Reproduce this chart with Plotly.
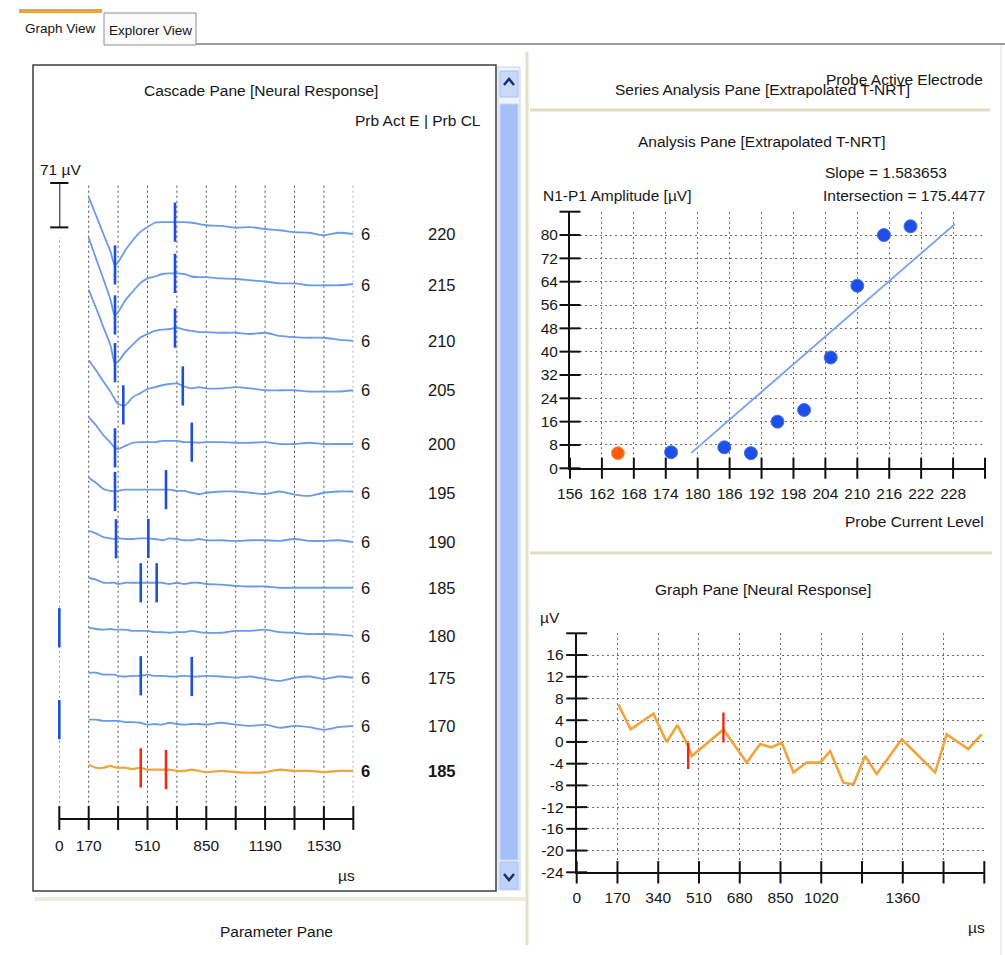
import numpy as np
import plotly.graph_objects as go

# ======================= DATA =======================
# Cascade pane (neural responses, µV relative to each trace's baseline)
cascade_time_us = [170, 212, 255, 297, 320, 340, 382, 425, 467, 510, 552, 595, 637, 680,
                   722, 765, 808, 850, 935, 1020, 1105, 1190, 1275, 1360, 1445, 1530, 1615, 1700]
cascade_levels = [220, 215, 210, 205, 200, 195, 190, 185, 180, 175, 170, 185]
cascade_electrodes = [6, 6, 6, 6, 6, 6, 6, 6, 6, 6, 6, 6]
cascade_offset_uv = [0, -82, -171, -250, -336, -414, -493, -566, -643, -710, -787, -859]

resp_220 = [59, 30, 0, -29, -50, -45, -26, -10, 3, 11, 18, 19, 19, 19, 19, 18, 16, 14, 13, 10, 11, 8, 6, 3, 2, -2, 2, 0]
resp_215 = [76, 43, 10, -24, -48, -43, -24, -10, 3, 11, 14, 18, 19, 19, 18, 14, 13, 13, 11, 10, 8, 6, 3, 3, 0, 0, 0, 2]
resp_210 = [82, 53, 22, -8, -35, -33, -18, -6, 5, 11, 16, 18, 19, 21, 18, 16, 14, 14, 13, 13, 11, 13, 8, 6, 5, 5, 2, 0]
resp_205 = [48, 32, 14, -3, -14, -22, -24, -11, -5, 2, 5, 8, 10, 11, 6, 3, 5, 3, 3, 5, 3, 0, 0, 0, -2, -2, -2, 0]
resp_200 = [43, 30, 14, 2, -6, -8, -3, 2, 3, 3, 3, 5, 5, 5, 3, 3, 2, 3, 3, 2, 2, 3, 0, 0, 2, 0, 0, 0]
resp_195 = [24, 16, 6, 3, 2, 3, 5, 5, 5, 5, 5, 5, 5, 3, 3, 0, -2, 0, 2, 2, 0, -2, 2, -3, -5, 0, 2, 2]
resp_190 = [18, 14, 8, 6, 5, 6, 5, 5, 6, 6, 5, 3, 6, 5, 3, 3, 5, 3, 3, 2, 3, 3, 2, 5, 2, 2, 3, 0]
resp_185 = [16, 13, 8, 8, 8, 6, 8, 8, 8, 8, 8, 8, 6, 8, 6, 8, 8, 6, 5, 3, 2, 2, 0, 0, 0, 0, 0, 0]
resp_180 = [13, 11, 10, 11, 10, 10, 10, 8, 8, 8, 6, 6, 5, 6, 6, 8, 6, 5, 5, 8, 8, 10, 6, 5, 3, 3, 2, 0]
resp_175 = [8, 8, 5, 5, 5, 3, 2, 3, 3, 5, 3, 3, 2, 2, 3, 2, 2, 3, 2, 0, 2, -2, -5, 0, 2, -2, 2, 0]
resp_170 = [10, 10, 8, 8, 8, 8, 6, 6, 5, 2, 3, 2, 5, 3, 2, 3, 3, 2, 5, 2, 0, 2, -3, 0, -2, -6, -2, 0]
resp_185_current = [10, 5, 5, 8, 6, 5, 5, 3, 5, 2, 2, 2, 2, 0, 0, 2, 0, -2, 0, -2, -3, -2, 2, 0, 0, -2, 0, 0]

cascade_n1_us = [322, 322, 322, 370, 322, 322, 328, 471, 0, 471, 0, 471]
cascade_p1_us = [669, 669, 669, 714, 766, 617, 515, 563, None, 766, None, 617]
cascade_tick_us = [0, 170, 340, 510, 680, 850, 1020, 1190, 1360, 1530, 1700]
cascade_tick_text = ["0", "170", "", "510", "", "850", "", "1190", "", "1530", ""]
scale_bar_uv = 71

# Analysis pane (extrapolated T-NRT)
cl_blue = [175, 185, 190, 195, 200, 205, 210, 215, 220]
amp_blue = [5.5, 7.2, 5.2, 16.0, 20.0, 38.0, 62.6, 80.0, 83.0]
cl_orange = [165]
amp_orange = [5.2]
fit_slope = 1.583653
fit_intersection = 175.4477
fit_cl = [178.8, 228.3]
analysis_x_ticks = [156, 162, 168, 174, 180, 186, 192, 198, 204, 210, 216, 222, 228, 234]
analysis_x_text = ["156", "162", "168", "174", "180", "186", "192", "198", "204", "210", "216", "222", "228", ""]
analysis_y_ticks = [0, 8, 16, 24, 32, 40, 48, 56, 64, 72, 80, 88]
analysis_y_text = ["0", "8", "16", "24", "32", "40", "48", "56", "64", "72", "80", ""]

# Graph pane (single neural response)
gp_time_us = [174, 225, 320, 375, 420, 461, 480, 514, 612, 709, 765, 813, 855, 904,
              959, 1015, 1057, 1112, 1154, 1203, 1251, 1356, 1495, 1543, 1633, 1689]
gp_uv = [6.9, 2.3, 5.2, 0.0, 3.1, -0.4, -2.6, -1.3, 2.3, -3.8, -0.4, -1.0, -0.1, -5.6,
         -3.8, -3.8, -1.7, -7.5, -7.8, -2.6, -5.9, 0.5, -5.6, 1.4, -1.3, 1.4]
gp_marker_us = [465, 612]
gp_marker_low = [-5.0, -0.1]
gp_marker_high = [-0.1, 5.4]
gp_x_ticks = [0, 170, 340, 510, 680, 850, 1020, 1190, 1360, 1530, 1700]
gp_x_text = ["0", "170", "340", "510", "680", "850", "1020", "", "1360", "", ""]
gp_y_ticks = [-24, -20, -16, -12, -8, -4, 0, 4, 8, 12, 16, 20]
gp_y_text = ["-24", "-20", "-16", "-12", "-8", "-4", "0", "4", "8", "12", "16", ""]

# ======================= STYLE / LAYOUT HELPERS =======================
W, H = 1005, 955
FONT = "Liberation Sans, Arial, sans-serif"
FS = 15.5
TXT = "#161616"
BLUE_LINE = "#6b9be8"
BLUE_MARK = "#1f4fd8"
ORANGE = "#f2a33a"
RED = "#ee2a14"
GRID = "#6e6e6e"


def X(px):
    return px / W


def Y(py):
    return 1 - py / H


casc_yrange = [-934.4, 94.4]          # µV, 1.6 µV per pixel
casc_grid_top = 81.6
casc_grid_bottom = -918.0

fig = go.Figure()

# ---------- Cascade traces ----------
cascade_responses = [resp_220, resp_215, resp_210, resp_205, resp_200, resp_195,
                     resp_190, resp_185, resp_180, resp_175, resp_170, resp_185_current]
n_rows = len(cascade_levels)
for i in range(n_rows):
    resp = cascade_responses[i]
    off = cascade_offset_uv[i]
    current = i == n_rows - 1
    fig.add_trace(go.Scatter(
        x=cascade_time_us, y=[off + v for v in resp], mode="lines",
        line=dict(color=ORANGE if current else BLUE_LINE, width=2.2 if current else 1.8,
                  shape="spline", smoothing=0.6),
        xaxis="x", yaxis="y", hoverinfo="skip"))
    mt = [t for t in (cascade_n1_us[i], cascade_p1_us[i]) if t is not None]
    my = [off + float(np.interp(t, cascade_time_us, resp)) for t in mt]
    fig.add_trace(go.Scatter(
        x=mt, y=my, mode="markers", cliponaxis=False,
        marker=dict(symbol="line-ns", size=28,
                    line=dict(width=2.6, color=RED if current else BLUE_MARK)),
        xaxis="x", yaxis="y", hoverinfo="skip"))

# scale bar
fig.add_trace(go.Scatter(
    x=[0, 0], y=[casc_grid_top, casc_grid_top - scale_bar_uv], mode="lines+markers",
    line=dict(color="#111", width=2), cliponaxis=False,
    marker=dict(symbol="line-ew", size=13, line=dict(width=2, color="#111")),
    xaxis="x", yaxis="y", hoverinfo="skip"))

# crossing tick marks on cascade axis
fig.add_trace(go.Scatter(
    x=cascade_tick_us, y=[casc_yrange[0]] * len(cascade_tick_us), mode="markers",
    cliponaxis=False, marker=dict(symbol="line-ns", size=17, line=dict(width=2, color="#111")),
    xaxis="x", yaxis="y", hoverinfo="skip"))

# ---------- Analysis pane ----------
fit_amp = [fit_slope * (c - fit_intersection) for c in fit_cl]
fig.add_trace(go.Scatter(x=fit_cl, y=fit_amp, mode="lines",
                         line=dict(color="#7aa3ea", width=1.8),
                         xaxis="x2", yaxis="y2", hoverinfo="skip"))
fig.add_trace(go.Scatter(x=cl_blue, y=amp_blue, mode="markers",
                         marker=dict(color="#1d4fe6", size=13, line=dict(width=1, color="#4a72ee")),
                         xaxis="x2", yaxis="y2", hoverinfo="skip"))
fig.add_trace(go.Scatter(x=cl_orange, y=amp_orange, mode="markers",
                         marker=dict(color="#ff5a12", size=13, line=dict(width=1, color="#ff9a50")),
                         xaxis="x2", yaxis="y2", hoverinfo="skip"))
fig.add_trace(go.Scatter(
    x=analysis_x_ticks, y=[analysis_y_ticks[0]] * len(analysis_x_ticks), mode="markers",
    cliponaxis=False, marker=dict(symbol="line-ns", size=15, line=dict(width=2, color="#111")),
    xaxis="x2", yaxis="y2", hoverinfo="skip"))
fig.add_trace(go.Scatter(
    x=[analysis_x_ticks[0]] * len(analysis_y_ticks), y=analysis_y_ticks, mode="markers",
    cliponaxis=False, marker=dict(symbol="line-ew", size=15, line=dict(width=2, color="#111")),
    xaxis="x2", yaxis="y2", hoverinfo="skip"))

# ---------- Graph pane ----------
fig.add_trace(go.Scatter(x=gp_time_us, y=gp_uv, mode="lines",
                         line=dict(color=ORANGE, width=2.6),
                         xaxis="x3", yaxis="y3", hoverinfo="skip"))
mx, my = [], []
for t, lo, hi in zip(gp_marker_us, gp_marker_low, gp_marker_high):
    mx += [t, t, None]
    my += [lo, hi, None]
fig.add_trace(go.Scatter(x=mx, y=my, mode="lines", line=dict(color=RED, width=2.4),
                         xaxis="x3", yaxis="y3", hoverinfo="skip"))
fig.add_trace(go.Scatter(
    x=gp_x_ticks, y=[gp_y_ticks[0]] * len(gp_x_ticks), mode="markers",
    cliponaxis=False, marker=dict(symbol="line-ns", size=16, line=dict(width=2, color="#111")),
    xaxis="x3", yaxis="y3", hoverinfo="skip"))
fig.add_trace(go.Scatter(
    x=[gp_x_ticks[0]] * len(gp_y_ticks), y=gp_y_ticks, mode="markers",
    cliponaxis=False, marker=dict(symbol="line-ew", size=15, line=dict(width=2, color="#111")),
    xaxis="x3", yaxis="y3", hoverinfo="skip"))

# ======================= SHAPES (window chrome) =======================
shapes = []


def rect(x0, y0, x1, y1, fill="rgba(0,0,0,0)", line=None, width=1):
    shapes.append(dict(type="rect", xref="paper", yref="paper",
                       x0=X(x0), x1=X(x1), y0=Y(y1), y1=Y(y0), fillcolor=fill,
                       line=dict(color=line or "rgba(0,0,0,0)", width=width if line else 0),
                       layer="below"))


def seg(x0, y0, x1, y1, color, width=1):
    shapes.append(dict(type="line", xref="paper", yref="paper",
                       x0=X(x0), x1=X(x1), y0=Y(y0), y1=Y(y1),
                       line=dict(color=color, width=width), layer="below"))


def path(points, color, width=2):
    d = "M" + " L".join(f"{X(a):.5f},{Y(b):.5f}" for a, b in points)
    shapes.append(dict(type="path", xref="paper", yref="paper", path=d,
                       line=dict(color=color, width=width), layer="above"))


# tabs
rect(19, 9, 102, 13, fill="#f2a23c")
rect(104, 13, 196, 45, fill="#fbfbfb", line="#8f8f8f", width=1)
seg(196, 44, 1005, 44, "#9d9d9d", 2)
seg(1001, 45, 1001, 955, "#dcdcdc", 1)
# cascade box
rect(35, 897, 525, 901, fill="#ecebdf")
rect(33, 65, 496, 891, fill="white", line="#3c3c3c", width=1.5)
# scrollbar
rect(498, 67, 520, 890, fill="#eef3fc", line="#c6d5f2", width=1)
rect(500, 71, 518, 97, fill="#c9d9f9", line="#a8c0ef", width=1)
rect(500, 104, 518, 860, fill="#a6c0f6", line="#c4d5f7", width=1)
rect(500, 862, 518, 889, fill="#bfd2f8", line="#a8c0ef", width=1)
path([(504, 85), (509, 79), (514, 85)], "#1b2f6e", 2.5)
path([(504, 874), (509, 880), (514, 874)], "#1b2f6e", 2.5)
# right panel separators
seg(527, 52, 527, 945, "#e3e0c9", 3)
seg(530, 110, 990, 110, "#e0ddc2", 3)
seg(530, 553, 992, 553, "#e0ddc2", 3)

# cascade vertical dotted gridlines (data coordinates)
for t in cascade_tick_us:
    top = casc_grid_top if t > 0 else -5.0
    shapes.append(dict(type="line", xref="x", yref="y", x0=t, x1=t,
                       y0=casc_grid_bottom, y1=top,
                       line=dict(color="#4a4a4a", width=1, dash="2px,3px"), layer="below"))

# ======================= ANNOTATIONS =======================
ann = []


def text(s, x, y, size=FS, xanchor="center", bold=False, color=TXT):
    ann.append(dict(text=f"<b>{s}</b>" if bold else s, x=X(x), y=Y(y), xref="paper", yref="paper",
                    xanchor=xanchor, yanchor="middle", showarrow=False,
                    font=dict(family=FONT, size=size, color=color)))


text("Graph View", 60, 29, 13.5)
text("Explorer View", 150, 30, 13.5)
text("Cascade Pane [Neural Response]", 261, 91)
text("Prb Act E | Prb CL", 418, 121)
text("71 µV", 60, 170)
text("µs", 346, 875)
text("Parameter Pane", 276, 931)
text("Series Analysis Pane [Extrapolated T-NRT]", 762, 89)
text("Probe Active Electrode", 985, 80, xanchor="right")
text("Analysis Pane [Extrapolated T-NRT]", 762, 142)
text("Slope = 1.583653", 823, 172, xanchor="left")
text("Intersection = 175.4477", 821, 195, xanchor="left")
text("N1-P1 Amplitude [µV]", 541, 195, xanchor="left")
text("Probe Current Level", 986, 521, xanchor="right")
text("Graph Pane [Neural Response]", 763, 589)
text("µV", 550, 617)
text("µs", 976, 927)

for i in range(n_rows):
    current = i == n_rows - 1
    for s, xp in ((str(cascade_electrodes[i]), 365), (str(cascade_levels[i]), 442)):
        ann.append(dict(text=f"<b>{s}</b>" if current else s, x=X(xp), y=cascade_offset_uv[i],
                        xref="paper", yref="y", xanchor="center", yanchor="middle",
                        showarrow=False, font=dict(family=FONT, size=16.5, color=TXT)))

# ======================= AXES =======================
tickfont = dict(family=FONT, size=FS, color=TXT)
axis_base = dict(showline=True, linecolor="#111", linewidth=2, zeroline=False,
                 ticks="outside", tickcolor="rgba(0,0,0,0)", tickfont=tickfont,
                 fixedrange=True, tickmode="array", tickangle=0, automargin=False)
grid = dict(showgrid=True, gridcolor=GRID, gridwidth=1, griddash="2px,3px")

fig.update_layout(
    width=W, height=H, autosize=False,
    margin=dict(l=0, r=0, t=0, b=0, pad=0, autoexpand=False),
    paper_bgcolor="white", plot_bgcolor="rgba(0,0,0,0)",
    showlegend=False,
    font=dict(family=FONT, size=FS, color=TXT),
    shapes=shapes, annotations=ann,
    xaxis=dict(axis_base, domain=[X(59.3), X(353.3)], range=[0, 1700], anchor="y",
               tickvals=cascade_tick_us, ticktext=cascade_tick_text, ticklen=12, showgrid=False),
    yaxis=dict(domain=[Y(818), Y(175)], range=casc_yrange, anchor="x", visible=False,
               fixedrange=True, showgrid=False, zeroline=False, automargin=False),
    xaxis2=dict(axis_base, **grid, domain=[X(570), X(985)], range=[156, 234], anchor="y2",
                tickvals=analysis_x_ticks, ticktext=analysis_x_text, ticklen=10),
    yaxis2=dict(axis_base, **grid, domain=[Y(468.3), Y(211.7)], range=[0, 88], anchor="x2",
                tickvals=analysis_y_ticks, ticktext=analysis_y_text, ticklen=7),
    xaxis3=dict(axis_base, **grid, domain=[X(576.7), X(984.3)], range=[0, 1700], anchor="y3",
                tickvals=gp_x_ticks, ticktext=gp_x_text, ticklen=10),
    yaxis3=dict(axis_base, **grid, domain=[Y(872.3), Y(633.3)], range=[-24, 20], anchor="x3",
                tickvals=gp_y_ticks, ticktext=gp_y_text, ticklen=8),
)

fig.write_html(
    "out.html",
    config={"displayModeBar": False},
    post_script="document.documentElement.style.margin='0';document.body.style.margin='0';"
                "document.body.style.padding='0';document.documentElement.style.overflow='hidden';"
                "document.body.style.overflow='hidden';",
)
